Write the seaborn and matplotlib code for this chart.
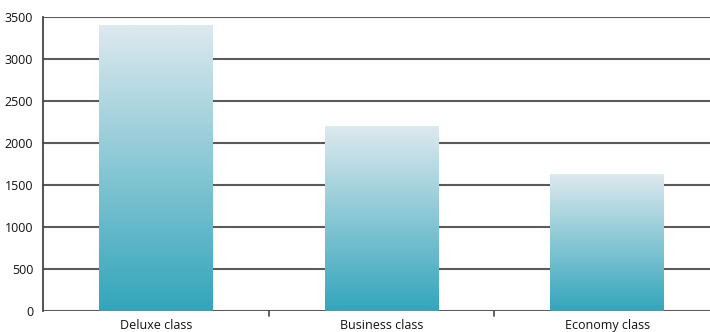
import numpy as np
import pandas as pd
import matplotlib
matplotlib.use("Agg")
import matplotlib.pyplot as plt
import seaborn as sns
from matplotlib.colors import LinearSegmentedColormap

categories = ["Deluxe class", "Business class", "Economy class"]
values = [3400, 2200, 1630]
y_ticks = [0, 500, 1000, 1500, 2000, 2500, 3000, 3500]

sns.set_theme(style="white")
plt.rcParams["font.family"] = ["Open Sans", "DejaVu Sans"]

df = pd.DataFrame({"cls": categories, "val": values})

W, H = 710, 332
fig = plt.figure(figsize=(W / 100, H / 100), dpi=100)
ax = fig.add_axes([43 / W, 21 / H, 677 / W, 294 / H])

sns.barplot(data=df, x="cls", y="val", ax=ax, width=0.505, color="#9cc9d5",
            saturation=1, zorder=3)

ax.set_ylim(0, 3500)
ax.set_xlim(-0.5, 2.5)
ax.set_yticks(y_ticks)
ax.set_xlabel("")
ax.set_ylabel("")

# horizontal grid lines
for t in y_ticks:
    ax.axhline(t, color="#5a5a5a", lw=1.5, zorder=1)

# vertical gradient inside each bar
grad = LinearSegmentedColormap.from_list("g", ["#33a5bb", "#dde9ee"])
ramp = np.linspace(0, 1, 256).reshape(-1, 1)
for p in list(ax.patches):
    x0, y0 = p.get_x(), p.get_y()
    w, h = p.get_width(), p.get_height()
    im = ax.imshow(ramp, cmap=grad, origin="lower", aspect="auto",
                   extent=(x0, x0 + w, y0, y0 + h), zorder=4)
    im.set_clip_path(p)
    p.set_edgecolor("none")
ax.set_xlim(-0.5, 2.5)
ax.set_ylim(0, 3500)

for s in ["top", "right", "bottom"]:
    ax.spines[s].set_visible(False)
ax.spines["left"].set_color("#444444")
ax.spines["left"].set_linewidth(1.3)
ax.spines["left"].set_zorder(5)

# tick marks between categories
for b in [0.5, 1.5]:
    ax.plot([b, b], [0, -0.018], transform=ax.get_xaxis_transform(),
            color="#444444", lw=1.2, clip_on=False)

ax.tick_params(axis="x", length=0, pad=6, labelsize=9, colors="#111111")
ax.tick_params(axis="y", length=0, pad=7, labelsize=9, colors="#111111")

fig.savefig("out.png", dpi=100)
